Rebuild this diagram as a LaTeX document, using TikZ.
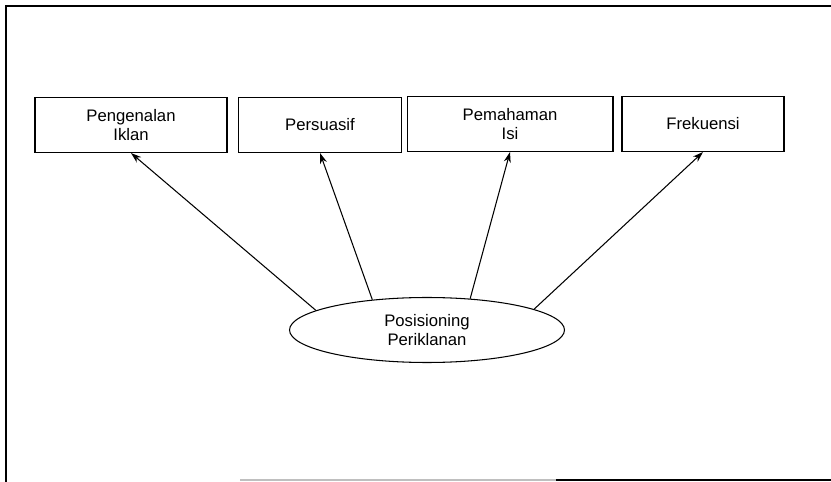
\documentclass[tikz,border=0pt]{standalone}
\usepackage{fontspec}
\setmainfont{Liberation Sans}
\usetikzlibrary{positioning,shapes,arrows.meta}

\begin{document}
\begin{tikzpicture}[x=0.02cm,y=-0.02cm,
		kotak/.style={draw,line width=0.6pt,minimum height=1.1cm,align=center,font=\fontsize{9.5}{10.5}\selectfont},
		elips/.style={draw,ellipse,line width=0.6pt,minimum width=5.5cm,minimum height=1.3cm,inner sep=0pt,align=center,font=\fontsize{9.5}{10.5}\selectfont},
		panah/.style={-{Stealth[length=6pt,width=4pt]},line width=0.6pt}]
					\useasboundingbox (0,0) rectangle (831,482);
					% bingkai
					\draw[line width=1.1pt] (831,6) -- (6,6) -- (6,482);
					\draw[line width=1pt,gray!50] (240,480) -- (556,480);
					\draw[line width=1.1pt] (556,480) -- (831,480);

					\node[kotak,minimum width=3.84cm] (iklan) at (131,125) {Pengenalan\\Iklan};
					\node[kotak,minimum width=3.26cm] (persuasif) at (320,125) {Persuasif};
					\node[kotak,minimum width=4.12cm] (isi) at (510,124) {Pemahaman\\Isi};
					\node[kotak,minimum width=3.24cm] (frekuensi) at (703,124) {Frekuensi};
					\node[elips] (pos) at (427,330) {Posisioning\\Periklanan};

					\draw[panah] (pos.170) -- (iklan.south);
					\draw[panah] (pos.151) -- (persuasif.south);
					\draw[panah] (pos.36) -- (isi.south);
					\draw[panah] (pos.11) -- (frekuensi.south);
				\end{tikzpicture}
\end{document}
